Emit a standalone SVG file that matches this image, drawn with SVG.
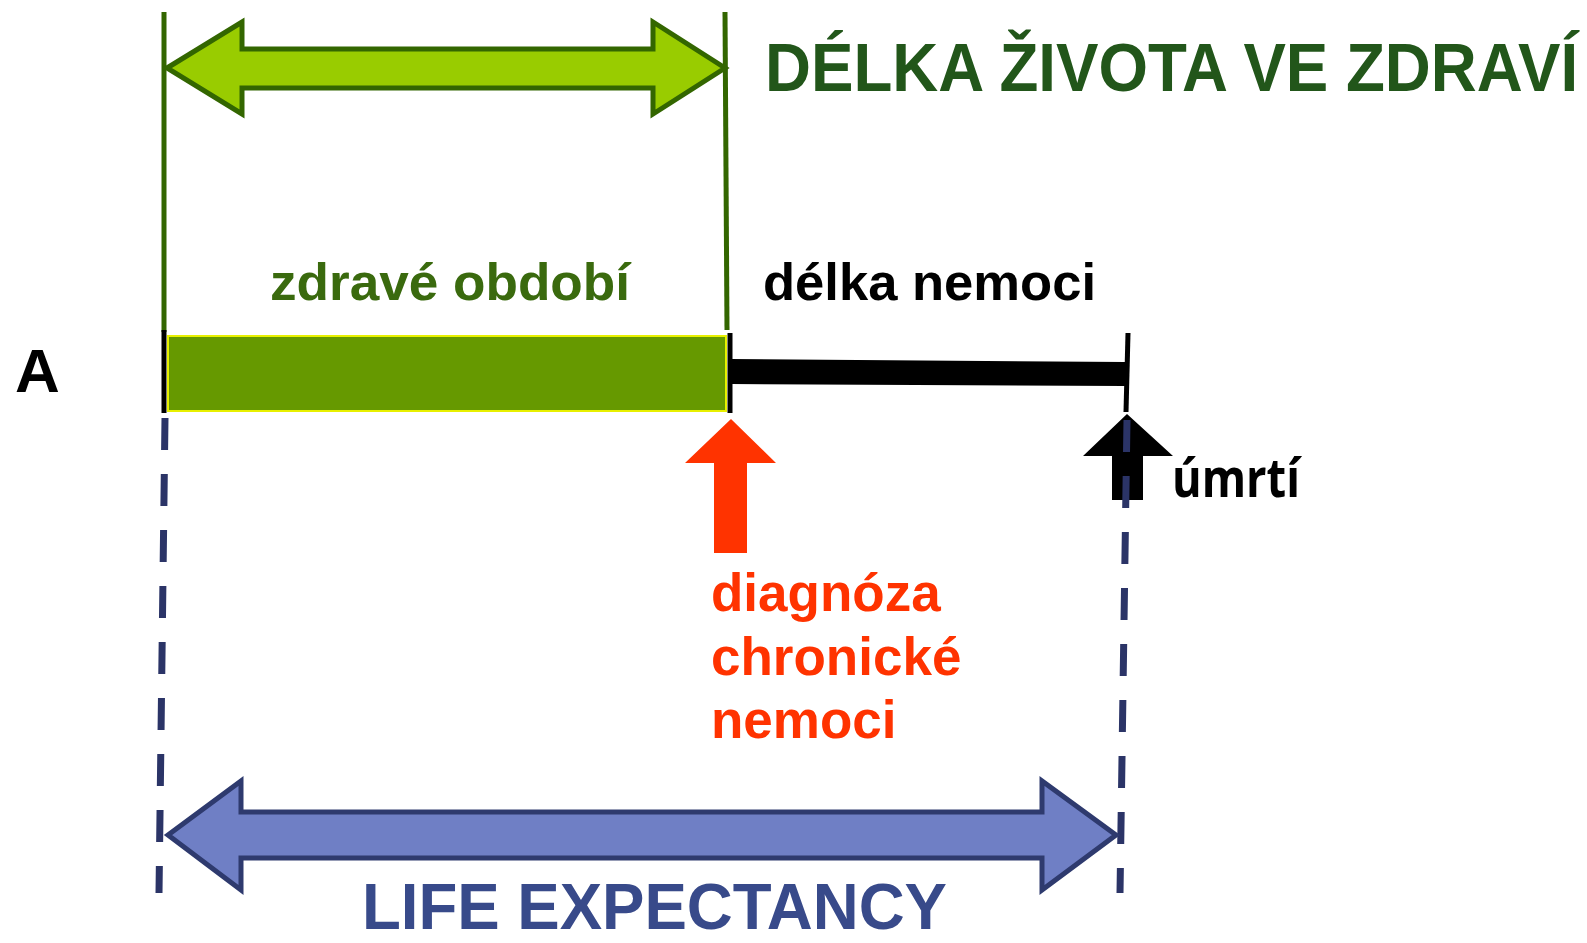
<svg xmlns="http://www.w3.org/2000/svg" width="1587" height="943" viewBox="0 0 1587 943">
<style>
.t{font-family:"Liberation Sans",Arial,sans-serif;font-weight:bold}
.dash{stroke:#2B3467;stroke-width:7;stroke-dasharray:32 24;fill:none}
.tick{stroke:#000;stroke-width:5;fill:none}
.gl{stroke:#336600;stroke-width:5;fill:none}
</style>
<rect width="1587" height="943" fill="#fff"/>
<g id="connectors">
<line class="gl" x1="164" y1="12" x2="164" y2="332"/>
<line class="gl" x1="725" y1="12" x2="727" y2="330"/>
</g>
<g id="healthy-arrow">
<polygon points="167,68 242,22 242,49 653,49 653,22 725,68 653,114 653,88 242,88 242,114" fill="#99CC00" stroke="#336600" stroke-width="5" stroke-linejoin="miter"/>
</g>
<g id="title">
<text class="t" transform="matrix(0.936 0 0 1 765 91)" x="0" y="0" font-size="68" fill="#22561A">DÉLKA ŽIVOTA VE ZDRAVÍ</text>
</g>
<g id="labels-top">
<text class="t" x="270" y="300" font-size="52" fill="#3A6A0E" textLength="360" lengthAdjust="spacingAndGlyphs">zdravé období</text>
<text class="t" x="763" y="300" font-size="52" fill="#000" textLength="333" lengthAdjust="spacingAndGlyphs">délka nemoci</text>
</g>
<g id="label-a">
<text class="t" x="15" y="392" font-size="62" fill="#000">A</text>
</g>
<g id="timeline">
<rect x="168" y="336" width="558" height="75" fill="#669900" stroke="#E8F000" stroke-width="2"/>
<polygon points="731,359 1125,362 1125,386 731,384" fill="#000"/>
<line class="tick" x1="164" y1="330" x2="164" y2="413"/>
<line class="tick" x1="730" y1="333" x2="730" y2="413"/>
<line class="tick" x1="1128" y1="333" x2="1126" y2="412"/>
</g>
<g id="diagnosis-arrow">
<polygon points="731,419 776,463 747,463 747,553 714,553 714,463 685,463" fill="#FF3300"/>
</g>
<g id="death-arrow">
<polygon points="1127,414 1173,456 1143,456 1143,500 1112,500 1112,456 1083,456" fill="#000"/>
</g>
<g id="dashed-lines">
<line class="dash" x1="165" y1="418" x2="159" y2="893"/>
<line class="dash" x1="1127" y1="420" x2="1120" y2="893"/>
</g>
<g id="label-death">
<text x="1172" y="497" font-family="'Open Sans','Noto Sans',sans-serif" font-weight="bold" font-size="54" fill="#000" textLength="128" lengthAdjust="spacingAndGlyphs">úmrtí</text>
</g>
<g id="label-diagnosis">
<text class="t" font-size="53" fill="#FF3300"><tspan x="711" y="611">diagnóza</tspan><tspan x="711" y="675">chronické</tspan><tspan x="711" y="738">nemoci</tspan></text>
</g>
<g id="life-arrow">
<polygon points="168,835 241,781 241,812 1042,812 1042,781 1116,835 1042,890 1042,858 241,858 241,890" fill="#6F7FC5" stroke="#2E3A6E" stroke-width="5"/>
</g>
<g id="life-label">
<text class="t" transform="matrix(0.978 0 0 1 362 929)" x="0" y="0" font-size="65" fill="#384A8A">LIFE EXPECTANCY</text>
</g>
</svg>
